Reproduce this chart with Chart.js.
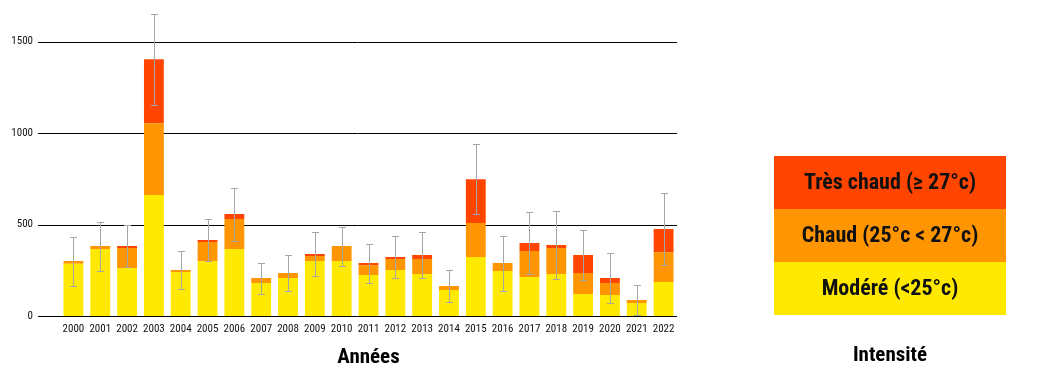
<!DOCTYPE html>
<html>
<head>
<meta charset="utf-8">
<script src="https://cdn.jsdelivr.net/npm/chart.js@4/dist/chart.umd.min.js"></script>
<style>
    html, body { margin: 0; padding: 0; background: #fff; }
    #wrap { width: 1041px; height: 385px; }
</style>
</head>
<body>
<div id="wrap"><canvas id="myBarChart" width="1041" height="385"></canvas></div>
<script>
// years shown on the x axis
const annees = ['2000', '2001', '2002', '2003', '2004', '2005', '2006', '2007', '2008', '2009', '2010',
    '2011', '2012', '2013', '2014', '2015', '2016', '2017', '2018', '2019', '2020', '2021', '2022'];

// stacked values (one segment each)
const modere = [286, 366, 262, 661, 240, 300, 366, 180, 207, 300, 300,
    224, 251, 229, 142, 322, 246, 213, 229, 120, 115, 71, 186];
const chaud = [14, 16, 109, 393, 11, 104, 164, 27, 28, 28, 82,
    54, 60, 82, 22, 186, 43, 142, 142, 115, 65, 16, 163];
const tresChaud = [0, 0, 11, 349, 0, 11, 27, 0, 0, 11, 0,
    11, 11, 22, 0, 240, 0, 44, 17, 98, 27, 0, 126];

// half length of the error bar around the total
const erreur = [134, 134, 113, 249, 105, 115, 145, 85, 101, 120, 107,
    107, 115, 125, 90, 193, 150, 172, 188, 136, 136, 80, 199];

const yTicks = [0, 500, 1000, 1500];

const fontName = '"Roboto Condensed", Roboto, sans-serif';
const couleurs = {
    modere: '#FFE900',
    chaud: '#FF9500',
    tresChaud: '#FF4500'
};

const ctp = document.getElementById('myBarChart').getContext('2d');

// horizontal lines, they start a bit left of the first bar
const gridLines = {
    id: 'gridLines',
    beforeDatasetsDraw(chart) {
        const { ctx, chartArea, scales } = chart;
        ctx.save();
        ctx.strokeStyle = '#000';
        ctx.lineWidth = 1;
        yTicks.forEach(v => {
            const y = Math.round(scales.y.getPixelForValue(v)) + 0.5;
            ctx.beginPath();
            ctx.moveTo(chartArea.left - 22, y);
            ctx.lineTo(chartArea.right, y);
            ctx.stroke();
        });
        ctx.restore();
    }
};

// grey error bars on the total of each year
const errorBars = {
    id: 'errorBars',
    afterDatasetsDraw(chart) {
        const { ctx, scales } = chart;
        const meta = chart.getDatasetMeta(2);
        ctx.save();
        ctx.strokeStyle = '#a6a6a6';
        ctx.lineWidth = 1;
        annees.forEach((a, i) => {
            const total = modere[i] + chaud[i] + tresChaud[i];
            const x = Math.round(meta.data[i].x) + 0.5;
            const yTop = Math.round(scales.y.getPixelForValue(total + erreur[i])) + 0.5;
            const low = Math.max(total - erreur[i], 0);
            const yBot = Math.round(scales.y.getPixelForValue(low)) + 0.5;
            ctx.beginPath();
            ctx.moveTo(x, yTop);
            ctx.lineTo(x, yBot);
            ctx.moveTo(x - 3.5, yTop);
            ctx.lineTo(x + 3.5, yTop);
            if (low > 0) {
                ctx.moveTo(x - 3.5, yBot);
                ctx.lineTo(x + 3.5, yBot);
            }
            ctx.stroke();
        });
        ctx.restore();
    }
};

// legend box on the right side, drawn from the datasets
const intensiteLegend = {
    id: 'intensiteLegend',
    afterDraw(chart) {
        const ctx = chart.ctx;
        const sets = chart.data.datasets.slice().reverse();
        const left = 774, top = 156, w = 232, h = 53;
        ctx.save();
        sets.forEach((ds, i) => {
            ctx.fillStyle = ds.backgroundColor;
            ctx.fillRect(left, top + i * h, w, h);
            ctx.fillStyle = '#111';
            ctx.font = 'bold 22px ' + fontName;
            ctx.textAlign = 'center';
            ctx.textBaseline = 'middle';
            ctx.fillText(ds.label, left + w / 2, top + i * h + h / 2 + 1);
        });
        ctx.font = 'bold 21px ' + fontName;
        ctx.fillStyle = '#000';
        ctx.textAlign = 'center';
        ctx.textBaseline = 'middle';
        ctx.fillText('Intensité', left + w / 2, 356);
        ctx.restore();
    }
};

new Chart(ctp, {
    type: 'bar',
    data: {
        labels: annees,
        datasets: [{
                label: 'Modéré (<25°c)',
                data: modere,
                backgroundColor: couleurs.modere
            },
            {
                label: 'Chaud (25°c < 27°c)',
                data: chaud,
                backgroundColor: couleurs.chaud
            },
            {
                label: 'Très chaud (≥ 27°c)',
                data: tresChaud,
                backgroundColor: couleurs.tresChaud
            }
        ]
    },
    options: {
        responsive: false,
        animation: false,
        layout: {
            padding: { top: 4, right: 364, left: 0, bottom: 0 }
        },
        datasets: {
            bar: {
                barPercentage: 0.74,
                categoryPercentage: 1,
                borderWidth: 0
            }
        },
        plugins: {
            legend: { display: false },
            tooltip: { enabled: false }
        },
        scales: {
            x: {
                stacked: true,
                grid: { display: false, drawTicks: false },
                border: { display: false },
                ticks: {
                    color: '#111',
                    padding: 7,
                    maxRotation: 0,
                    autoSkip: false,
                    font: { family: fontName, size: 11 }
                },
                title: {
                    display: true,
                    text: 'Années',
                    color: '#000',
                    padding: { top: 4, bottom: 15 },
                    font: { family: fontName, size: 21, weight: 'bold' }
                },
                afterFit: (scale) => { scale.height = 69; }
            },
            y: {
                stacked: true,
                min: 0,
                max: 1680,
                // tick marks are not drawn, their length only pushes the labels left
                grid: { display: false, drawTicks: true, tickLength: 25 },
                border: { display: false },
                afterBuildTicks: (scale) => { scale.ticks = yTicks.map(v => ({ value: v })); },
                ticks: {
                    color: '#111',
                    padding: 2,
                    font: { family: fontName, size: 11 },
                    callback: (v) => String(v)
                },
                afterFit: (scale) => { scale.width = 60; }
            }
        }
    },
    plugins: [gridLines, errorBars, intensiteLegend]
});
</script>
</body>
</html>
